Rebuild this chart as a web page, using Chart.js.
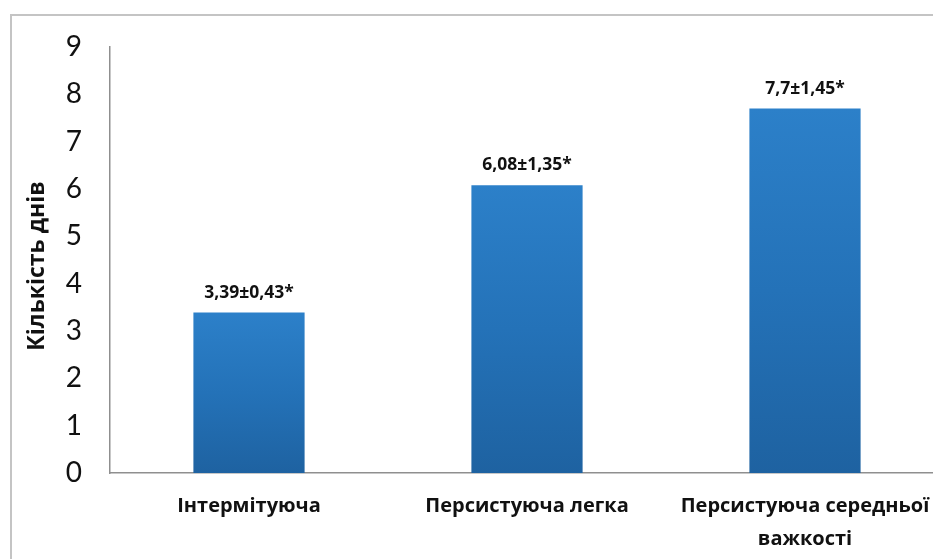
<!DOCTYPE html>
<html>
<head>
<meta charset="utf-8">
<script src="https://cdn.jsdelivr.net/npm/chart.js@4"></script>
<style>
  html, body { margin: 0; padding: 0; background: #fff; overflow: hidden; width: 933px; height: 559px; }
  #frame { position: absolute; left: 10px; top: 14px; width: 1000px; height: 600px; border-top: 2px solid #c4c4c4; border-left: 2px solid #c4c4c4; }
  #wrap { position: absolute; left: 0; top: 0; width: 950px; height: 559px; }
</style>
</head>
<body>
<div id="frame"></div>
<div id="wrap"><canvas id="c" width="950" height="559"></canvas></div>
<script>
const categories = ["Інтермітуюча", "Персистуюча легка", ["Персистуюча середньої", "важкості"]];
const values = [3.39, 6.08, 7.7];
const valueLabels = ["3,39±0,43*", "6,08±1,35*", "7,7±1,45*"];
const yTicks = [0, 1, 2, 3, 4, 5, 6, 7, 8, 9];
const yTitle = "Кількість днів";

const BOLDFONT = "'Open Sans', sans-serif";
const TICKFONT = "Lato, 'Open Sans', sans-serif";

const labelPlugin = {
  id: 'valueLabels',
  afterDatasetsDraw(chart) {
    const ctx = chart.ctx;
    const meta = chart.getDatasetMeta(0);
    ctx.save();
    ctx.font = "bold 17.5px " + BOLDFONT;
    ctx.fillStyle = "#111";
    ctx.textAlign = "center";
    ctx.textBaseline = "middle";
    meta.data.forEach((bar, i) => {
      ctx.fillText(valueLabels[i], bar.x, bar.y - 20);
    });
    // y axis title, rotated
    ctx.font = "bold 23px " + BOLDFONT;
    ctx.translate(37, chart.chartArea.top + (chart.chartArea.bottom - chart.chartArea.top) / 2 + 6);
    ctx.rotate(-Math.PI / 2);
    ctx.fillText(yTitle, 0, 0);
    ctx.restore();
  }
};

new Chart(document.getElementById('c'), {
  type: 'bar',
  data: {
    labels: categories,
    datasets: [{
      data: values,
      backgroundColor(context) {
        const chart = context.chart;
        const ys = chart.scales && chart.scales.y;
        if (!ys || context.dataIndex === undefined) return '#2874bb';
        const top = ys.getPixelForValue(values[context.dataIndex]);
        const base = ys.getPixelForValue(0);
        if (!isFinite(top) || !isFinite(base) || top === base) return '#2874bb';
        const g = chart.ctx.createLinearGradient(0, top, 0, base);
        g.addColorStop(0, '#2c80c9');
        g.addColorStop(0.5, '#2472b8');
        g.addColorStop(1, '#1e62a1');
        return g;
      },
      borderWidth: 0,
      categoryPercentage: 1.0,
      barPercentage: 0.4
    }]
  },
  options: {
    responsive: false,
    animation: false,
    layout: { padding: { top: 47, right: 6, left: 0, bottom: 0 } },
    plugins: { legend: { display: false }, tooltip: { enabled: false } },
    scales: {
      x: {
        grid: { display: false, drawTicks: false },
        border: { display: true, color: '#8f8f8f', width: 1.5 },
        ticks: {
          padding: 16,
          color: '#111',
          font: { family: BOLDFONT, size: 20, weight: 'bold', lineHeight: 1.68 },
          maxRotation: 0, autoSkip: false
        },
        afterFit(s) { s.height = 86; }
      },
      y: {
        min: 0, max: 9,
        afterBuildTicks(s) { s.ticks = yTicks.map(v => ({ value: v })); },
        grid: { display: false, drawTicks: false },
        border: { display: true, color: '#8f8f8f', width: 1.5 },
        ticks: {
          padding: 28,
          color: '#111',
          font: { family: TICKFONT, size: 28 }
        },
        title: { display: false, text: yTitle },
        afterFit(s) { s.width = 110; }
      }
    }
  },
  plugins: [labelPlugin]
});
</script>
</body>
</html>
